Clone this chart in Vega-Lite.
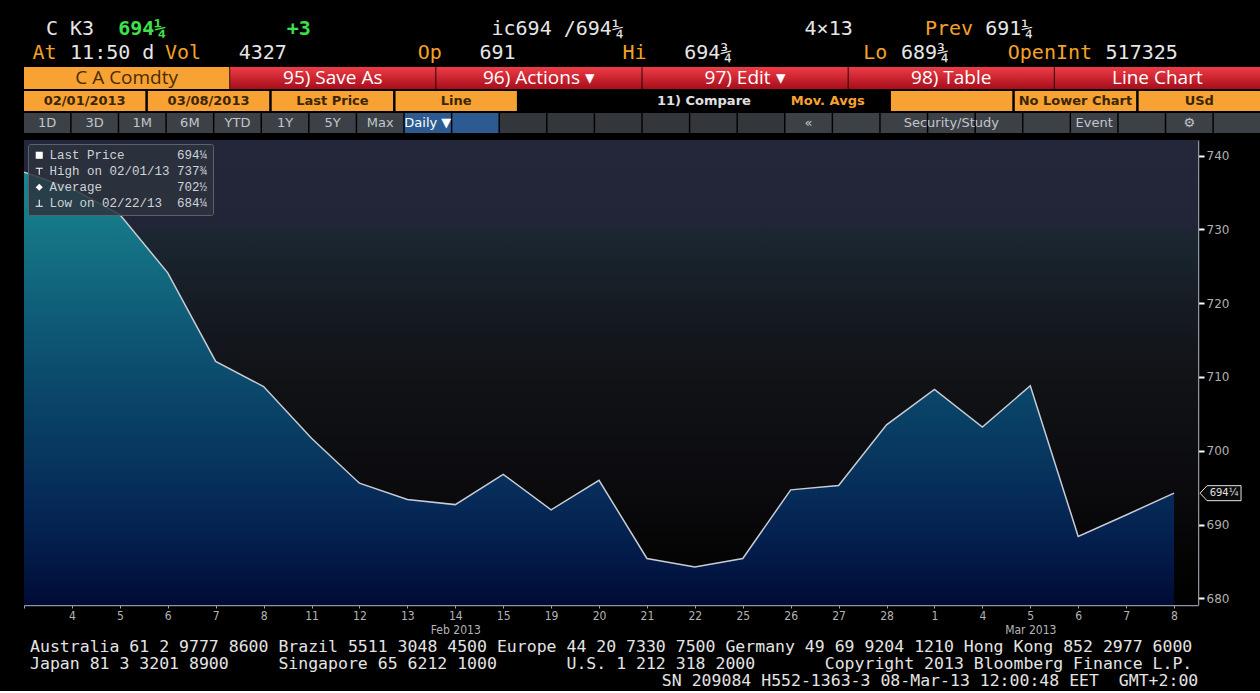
{
  "$schema": "https://vega.github.io/schema/vega-lite/v6.json",
  "background": "#000000",
  "padding": {"left": 21, "top": 17, "right": 0, "bottom": 2},
  "spacing": 7,
  "resolve": {"scale": {"shape": "independent"}, "legend": {"shape": "independent"}},
  "config": {"view": {"stroke": null}},
  "datasets": {
    "prices": [
      {"date": "2013-02-01", "price": 737.75},
      {"date": "2013-02-04", "price": 735.5},
      {"date": "2013-02-05", "price": 732.0},
      {"date": "2013-02-06", "price": 724.1},
      {"date": "2013-02-07", "price": 712.1},
      {"date": "2013-02-08", "price": 708.7},
      {"date": "2013-02-11", "price": 701.7},
      {"date": "2013-02-12", "price": 695.6},
      {"date": "2013-02-13", "price": 693.4},
      {"date": "2013-02-14", "price": 692.7},
      {"date": "2013-02-15", "price": 696.8},
      {"date": "2013-02-19", "price": 692.0},
      {"date": "2013-02-20", "price": 696.0},
      {"date": "2013-02-21", "price": 685.4},
      {"date": "2013-02-22", "price": 684.25},
      {"date": "2013-02-25", "price": 685.4},
      {"date": "2013-02-26", "price": 694.7},
      {"date": "2013-02-27", "price": 695.3},
      {"date": "2013-02-28", "price": 703.5},
      {"date": "2013-03-01", "price": 708.3},
      {"date": "2013-03-04", "price": 703.2},
      {"date": "2013-03-05", "price": 708.8},
      {"date": "2013-03-06", "price": 688.4},
      {"date": "2013-03-07", "price": 691.3},
      {"date": "2013-03-08", "price": 694.25}
    ],
    "last": [{"date": "2013-03-08", "price": 694.25, "label": "694¼"}],
    "stats": [
      {"stat": "Last Price\u00a0\u00a0\u00a0\u00a0\u00a0\u00a0\u00a0694¼"},
      {"stat": "High on 02/01/13 737¾"},
      {"stat": "Average\u00a0\u00a0\u00a0\u00a0\u00a0\u00a0\u00a0\u00a0\u00a0\u00a0702½"},
      {"stat": "Low on 02/22/13\u00a0\u00a0684¼"}
    ],
    "header": [
      {"line": 1,
       "white": "\u2800C K3\u00a0\u00a0\u00a0\u00a0\u00a0\u00a0\u00a0\u00a0\u00a0\u00a0\u00a0\u00a0\u00a0\u00a0\u00a0\u00a0\u00a0\u00a0\u00a0\u00a0\u00a0\u00a0\u00a0\u00a0\u00a0\u00a0\u00a0\u00a0\u00a0\u00a0\u00a0\u00a0\u00a0ic694 /694¼\u00a0\u00a0\u00a0\u00a0\u00a0\u00a0\u00a0\u00a0\u00a0\u00a0\u00a0\u00a0\u00a0\u00a0\u00a04×13\u00a0\u00a0\u00a0\u00a0\u00a0\u00a0\u00a0\u00a0\u00a0\u00a0\u00a0691¼\u00a0\u00a0\u00a0\u00a0\u00a0\u00a0\u00a0\u00a0\u00a0\u00a0\u00a0\u00a0\u00a0\u00a0\u00a0\u00a0\u00a0\u2800",
       "green": "\u2800\u00a0\u00a0\u00a0\u00a0\u00a0\u00a0694¼\u00a0\u00a0\u00a0\u00a0\u00a0\u00a0\u00a0\u00a0\u00a0\u00a0+3\u00a0\u00a0\u00a0\u00a0\u00a0\u00a0\u00a0\u00a0\u00a0\u00a0\u00a0\u00a0\u00a0\u00a0\u00a0\u00a0\u00a0\u00a0\u00a0\u00a0\u00a0\u00a0\u00a0\u00a0\u00a0\u00a0\u00a0\u00a0\u00a0\u00a0\u00a0\u00a0\u00a0\u00a0\u00a0\u00a0\u00a0\u00a0\u00a0\u00a0\u00a0\u00a0\u00a0\u00a0\u00a0\u00a0\u00a0\u00a0\u00a0\u00a0\u00a0\u00a0\u00a0\u00a0\u00a0\u00a0\u00a0\u00a0\u00a0\u00a0\u00a0\u00a0\u00a0\u00a0\u00a0\u00a0\u00a0\u00a0\u00a0\u00a0\u00a0\u00a0\u00a0\u00a0\u00a0\u00a0\u00a0\u2800",
       "orange": "\u2800\u00a0\u00a0\u00a0\u00a0\u00a0\u00a0\u00a0\u00a0\u00a0\u00a0\u00a0\u00a0\u00a0\u00a0\u00a0\u00a0\u00a0\u00a0\u00a0\u00a0\u00a0\u00a0\u00a0\u00a0\u00a0\u00a0\u00a0\u00a0\u00a0\u00a0\u00a0\u00a0\u00a0\u00a0\u00a0\u00a0\u00a0\u00a0\u00a0\u00a0\u00a0\u00a0\u00a0\u00a0\u00a0\u00a0\u00a0\u00a0\u00a0\u00a0\u00a0\u00a0\u00a0\u00a0\u00a0\u00a0\u00a0\u00a0\u00a0\u00a0\u00a0\u00a0\u00a0\u00a0\u00a0\u00a0\u00a0\u00a0\u00a0\u00a0\u00a0\u00a0\u00a0Prev\u00a0\u00a0\u00a0\u00a0\u00a0\u00a0\u00a0\u00a0\u00a0\u00a0\u00a0\u00a0\u00a0\u00a0\u00a0\u00a0\u00a0\u00a0\u00a0\u00a0\u00a0\u00a0\u2800"},
      {"line": 2,
       "white": "\u2800\u00a0\u00a011:50\u00a0d\u00a0\u00a0\u00a0\u00a0\u00a0\u00a0\u00a04327\u00a0\u00a0\u00a0\u00a0\u00a0\u00a0\u00a0\u00a0\u00a0\u00a0\u00a0\u00a0\u00a0\u00a0\u00a0\u00a0691\u00a0\u00a0\u00a0\u00a0\u00a0\u00a0\u00a0\u00a0\u00a0\u00a0\u00a0\u00a0\u00a0\u00a0694¾\u00a0\u00a0\u00a0\u00a0\u00a0\u00a0\u00a0\u00a0\u00a0\u00a0\u00a0\u00a0\u00a0\u00a0689¾\u00a0\u00a0\u00a0\u00a0\u00a0\u00a0\u00a0\u00a0\u00a0\u00a0\u00a0\u00a0\u00a0517325\u00a0\u00a0\u00a0\u00a0\u00a0\u2800",
       "green": "",
       "orange": "At\u00a0\u00a0\u00a0\u00a0\u00a0\u00a0\u00a0\u00a0\u00a0Vol\u00a0\u00a0\u00a0\u00a0\u00a0\u00a0\u00a0\u00a0\u00a0\u00a0\u00a0\u00a0\u00a0\u00a0\u00a0\u00a0\u00a0\u00a0Op\u00a0\u00a0\u00a0\u00a0\u00a0\u00a0\u00a0\u00a0\u00a0\u00a0\u00a0\u00a0\u00a0\u00a0\u00a0Hi\u00a0\u00a0\u00a0\u00a0\u00a0\u00a0\u00a0\u00a0\u00a0\u00a0\u00a0\u00a0\u00a0\u00a0\u00a0\u00a0\u00a0\u00a0Lo\u00a0\u00a0\u00a0\u00a0\u00a0\u00a0\u00a0\u00a0\u00a0\u00a0OpenInt\u00a0\u00a0\u00a0\u00a0\u00a0\u00a0\u00a0\u00a0\u00a0\u00a0\u00a0\u00a0\u2800"}
    ],
    "bar1": [
      {"item": "security", "text": "C A Comdty", "kind": "input"},
      {"item": "95", "text": "95) Save As", "kind": "button"},
      {"item": "96", "text": "96) Actions ▾", "kind": "button"},
      {"item": "97", "text": "97) Edit ▾", "kind": "button"},
      {"item": "98", "text": "98) Table", "kind": "button"},
      {"item": "title", "text": "Line Chart", "kind": "button"}
    ],
    "bar2": [
      {"item": "from", "text": "02/01/2013", "kind": "input"},
      {"item": "to", "text": "03/08/2013", "kind": "input"},
      {"item": "field", "text": "Last Price", "kind": "input"},
      {"item": "style", "text": "Line", "kind": "input"},
      {"item": "gap", "text": "", "kind": "none"},
      {"item": "compare", "text": "11) Compare", "kind": "plain"},
      {"item": "avgs", "text": "Mov. Avgs", "kind": "label"},
      {"item": "avgboxes", "text": "", "kind": "input"},
      {"item": "lower", "text": "No Lower Chart", "kind": "input"},
      {"item": "currency", "text": "USd", "kind": "input"}
    ],
    "bar3": [
      {"item": "1D", "text": "1D", "kind": "btn"},
      {"item": "3D", "text": "3D", "kind": "btn"},
      {"item": "1M", "text": "1M", "kind": "btn"},
      {"item": "6M", "text": "6M", "kind": "btn"},
      {"item": "YTD", "text": "YTD", "kind": "btn"},
      {"item": "1Y", "text": "1Y", "kind": "btn"},
      {"item": "5Y", "text": "5Y", "kind": "btn"},
      {"item": "Max", "text": "Max", "kind": "btn"},
      {"item": "Daily", "text": "Daily ▼", "kind": "active"},
      {"item": "daily-ext", "text": "", "kind": "active"},
      {"item": "gap1", "text": "", "kind": "bar"},
      {"item": "gap2", "text": "", "kind": "bar"},
      {"item": "gap3", "text": "", "kind": "bar"},
      {"item": "gap4", "text": "", "kind": "bar"},
      {"item": "gap5", "text": "", "kind": "bar"},
      {"item": "gap6", "text": "", "kind": "bar"},
      {"item": "collapse", "text": "«", "kind": "btn"},
      {"item": "study-a", "text": "", "kind": "btn"},
      {"item": "study-b", "text": "", "kind": "btn"},
      {"item": "study", "text": "Security/Study", "kind": "btn"},
      {"item": "study-c", "text": "", "kind": "btn"},
      {"item": "event-a", "text": "", "kind": "btn"},
      {"item": "event", "text": "Event", "kind": "btn"},
      {"item": "event-b", "text": "", "kind": "btn"},
      {"item": "settings", "text": "⚙", "kind": "btn"},
      {"item": "end", "text": "", "kind": "btn"}
    ],
    "footer": [
      {"line": 1, "text": "Australia 61 2 9777 8600 Brazil 5511 3048 4500 Europe 44 20 7330 7500 Germany 49 69 9204 1210 Hong Kong 852 2977 6000\u00a0\u00a0\u00a0\u00a0\u00a0\u2800"},
      {"line": 2, "text": "Japan 81 3 3201 8900\u00a0\u00a0\u00a0\u00a0\u00a0Singapore 65 6212 1000\u00a0\u00a0\u00a0\u00a0\u00a0\u00a0\u00a0U.S. 1 212 318 2000\u00a0\u00a0\u00a0\u00a0\u00a0\u00a0\u00a0Copyright 2013 Bloomberg Finance L.P.\u00a0\u00a0\u00a0\u00a0\u00a0\u2800"},
      {"line": 3, "text": "\u2800\u00a0\u00a0\u00a0\u00a0\u00a0\u00a0\u00a0\u00a0\u00a0\u00a0\u00a0\u00a0\u00a0\u00a0\u00a0\u00a0\u00a0\u00a0\u00a0\u00a0\u00a0\u00a0\u00a0\u00a0\u00a0\u00a0\u00a0\u00a0\u00a0\u00a0\u00a0\u00a0\u00a0\u00a0\u00a0\u00a0\u00a0\u00a0\u00a0\u00a0\u00a0\u00a0\u00a0\u00a0\u00a0\u00a0\u00a0\u00a0\u00a0\u00a0\u00a0\u00a0\u00a0\u00a0\u00a0\u00a0\u00a0\u00a0\u00a0\u00a0\u00a0\u00a0\u00a0SN 209084 H552-1363-3 08-Mar-13 12:00:48 EET\u00a0\u00a0GMT+2:00\u00a0\u00a0\u00a0\u00a0\u00a0\u2800"}
    ]
  },
  "vconcat": [
    {
      "spacing": 2,
      "vconcat": [
        {
          "width": 1236, "height": 48,
          "data": {"name": "header"},
          "encoding": {"y": {"field": "line", "type": "ordinal", "axis": null, "scale": {"paddingInner": 0, "paddingOuter": 0}}},
          "layer": [
            {"mark": {"type": "text", "font": "DejaVu Sans Mono", "fontSize": 20, "align": "center", "color": "#e6e6e6"}, "encoding": {"text": {"field": "white"}}},
            {"mark": {"type": "text", "font": "DejaVu Sans Mono", "fontSize": 20, "align": "center", "color": "#f5a028"}, "encoding": {"text": {"field": "orange"}}},
            {"mark": {"type": "text", "font": "DejaVu Sans Mono", "fontSize": 20, "align": "center", "color": "#3ee04c", "fontWeight": "bold"}, "encoding": {"text": {"field": "green"}}}
          ]
        },
        {
          "width": 1236, "height": 22,
          "data": {"name": "bar1"},
          "encoding": {"x": {"field": "item", "type": "nominal", "sort": null, "axis": null, "scale": {"paddingInner": 0.004, "paddingOuter": 0}}},
          "layer": [
            {"mark": {"type": "rect"},
             "encoding": {"fill": {"condition": {"test": "datum.kind == 'input'", "value": "#f7a233"}, "value": {"gradient": "linear", "x1": 0, "y1": 0, "x2": 0, "y2": 1, "stops": [{"offset": 0, "color": "#ef3c46"}, {"offset": 1, "color": "#a60e1b"}]}}}},
            {"mark": {"type": "text", "font": "Open Sans", "fontSize": 19},
             "encoding": {"text": {"field": "text"}, "color": {"condition": {"test": "datum.kind == 'input'", "value": "#4a2c06"}, "value": "#ffffff"}}}
          ]
        },
        {
          "width": 1236, "height": 20,
          "data": {"name": "bar2"},
          "encoding": {"x": {"field": "item", "type": "nominal", "sort": null, "axis": null, "scale": {"paddingInner": 0.02, "paddingOuter": 0}}},
          "layer": [
            {"mark": {"type": "rect"},
             "encoding": {"fill": {"condition": {"test": "datum.kind == 'input'", "value": "#f7a233"}, "value": "#000000"}}},
            {"mark": {"type": "text", "font": "DejaVu Sans", "fontSize": 13, "fontWeight": "bold"},
             "encoding": {"text": {"field": "text"}, "color": {"condition": [{"test": "datum.kind == 'input'", "value": "#3a2606"}, {"test": "datum.kind == 'label'", "value": "#f7a233"}], "value": "#e0e0e0"}}}
          ]
        },
        {
          "width": 1236, "height": 20,
          "data": {"name": "bar3"},
          "encoding": {"x": {"field": "item", "type": "nominal", "sort": null, "axis": null, "scale": {"paddingInner": 0.03, "paddingOuter": 0}}},
          "layer": [
            {"mark": {"type": "rect"},
             "encoding": {"fill": {"condition": [{"test": "datum.kind == 'active'", "value": "#2b5b90"}, {"test": "datum.kind == 'bar'", "value": "#33373c"}], "value": "#3c4147"}}},
            {"mark": {"type": "text", "font": "DejaVu Sans", "fontSize": 13},
             "encoding": {"text": {"field": "text"}, "color": {"condition": {"test": "datum.kind == 'active'", "value": "#ffffff"}, "value": "#c2c6cb"}}}
          ]
        }
      ]
    },
    {
      "spacing": 3,
      "resolve": {"scale": {"shape": "independent"}, "legend": {"shape": "independent"}},
      "vconcat": [
        {
          "width": 1174, "height": 465,
          "layer": [
            {
              "data": {"values": [{}]},
              "mark": {"type": "rect", "fill": {"gradient": "linear", "x1": 0, "y1": 0, "x2": 0, "y2": 1, "stops": [{"offset": 0, "color": "#24263a"}, {"offset": 0.18, "color": "#222538"}, {"offset": 0.21, "color": "#1a2630"}, {"offset": 0.35, "color": "#161c24"}, {"offset": 0.5, "color": "#111317"}, {"offset": 0.75, "color": "#0b0b0e"}, {"offset": 0.92, "color": "#030303"}, {"offset": 1, "color": "#000000"}]}},
              "encoding": {}
            },
            {
              "data": {"name": "prices"},
              "encoding": {
                "x": {"field": "date", "type": "ordinal", "scale": {"type": "point", "padding": 0.25, "align": 0},
                  "axis": {"title": null, "labelAngle": 0, "labelOverlap": false, "domainColor": "#8f959e", "domainWidth": 1.5, "tickColor": "#a0a6ae", "tickSize": 3, "labelColor": "#b4b4b4", "labelFont": "Liberation Sans Narrow, DejaVu Sans Condensed, sans-serif", "labelFontSize": 12, "labelPadding": 2, "labelLineHeight": 14,
                    "labelExpr": "datum.value == '2013-02-01' ? '' : datum.value == '2013-02-14' ? ['14', 'Feb 2013'] : datum.value == '2013-03-05' ? ['5', 'Mar 2013'] : '' + toNumber(slice(datum.value, 8))",
                    "grid": true, "gridColor": "#9aa0a8", "gridDash": [2, 3],
                    "gridOpacity": {"condition": {"test": "indexof(['2013-02-07','2013-02-15','2013-02-22','2013-02-28','2013-03-08'], datum.value) >= 0", "value": 0.45}, "value": 0}}},
                "y": {"field": "price", "type": "quantitative", "scale": {"domain": [679.1, 742.1], "nice": false, "zero": false},
                  "axis": {"orient": "right", "title": null, "values": [680, 690, 700, 710, 720, 730, 740], "domainColor": "#8f959e", "domainWidth": 1.5, "tickColor": "#ffffff", "tickSize": 6, "tickWidth": 2, "labelColor": "#b0b0b0", "labelFont": "DejaVu Sans", "labelFontSize": 12, "labelPadding": 2, "grid": true, "gridColor": "#9aa0a8", "gridDash": [2, 3], "gridOpacity": 0.4}}
              },
              "layer": [
                {"mark": {"type": "area", "line": false, "clip": true, "fill": {"gradient": "linear", "x1": 0, "y1": 0, "x2": 0, "y2": 1, "stops": [{"offset": 0, "color": "#1a8592"}, {"offset": 0.09, "color": "#167c8a"}, {"offset": 0.3, "color": "#10607a"}, {"offset": 0.48, "color": "#0b4a6c"}, {"offset": 0.64, "color": "#083860"}, {"offset": 0.76, "color": "#062a58"}, {"offset": 0.89, "color": "#031a48"}, {"offset": 1, "color": "#000b34"}]}},
                 "encoding": {"y2": {"datum": 679.1}}},
                {"mark": {"type": "line", "stroke": "#c8ccd4", "strokeWidth": 1.5}}
              ]
            },
            {
              "data": {"name": "last"},
              "encoding": {
                "x": {"field": "date", "type": "ordinal", "title": null},
                "y": {"field": "price", "type": "quantitative", "title": null}
              },
              "layer": [
                {"mark": {"type": "point", "shape": "M5.2,0L6.6,-1.5L13.4,-1.5L13.4,1.5L6.6,1.5Z", "size": 100, "filled": true, "fill": "#0b0b0b", "stroke": "#e6e6e6", "strokeWidth": 1, "opacity": 1}},
                {"mark": {"type": "text", "dx": 50, "font": "DejaVu Sans", "fontSize": 10, "color": "#e0e0e0"}, "encoding": {"text": {"field": "label"}}}
              ]
            },
            {
              "data": {"name": "stats"},
              "mark": {"type": "point", "filled": true, "opacity": 0, "color": "#ffffff"},
              "encoding": {
                "shape": {"field": "stat", "type": "nominal", "sort": null,
                  "scale": {"range": ["square", "M-1,-1H1V-0.7H0.15V1H-0.15V-0.7H-1Z", "diamond", "M-0.15,-1H0.15V0.7H1V1H-1V0.7H-0.15Z"]},
                  "legend": {"title": null, "orient": "top-left", "offset": 4, "fillColor": "rgba(44,52,62,0.85)", "strokeColor": "#59626e", "padding": 5, "rowPadding": 2, "symbolSize": 50, "symbolFillColor": "#ffffff", "symbolStrokeColor": "#ffffff", "symbolOpacity": 1, "labelFont": "Liberation Mono", "labelFontSize": 12.5, "labelColor": "#cfd3d8", "labelLimit": 300, "cornerRadius": 2}}
              }
            }
          ]
        },
        {
          "width": 1236, "height": 51,
          "data": {"name": "footer"},
          "mark": {"type": "text", "font": "DejaVu Sans Mono", "fontSize": 16.5, "color": "#e4e4e4", "align": "center"},
          "encoding": {
            "y": {"field": "line", "type": "ordinal", "axis": null, "scale": {"paddingInner": 0, "paddingOuter": 0}},
            "text": {"field": "text"}
          }
        }
      ]
    }
  ]
}
